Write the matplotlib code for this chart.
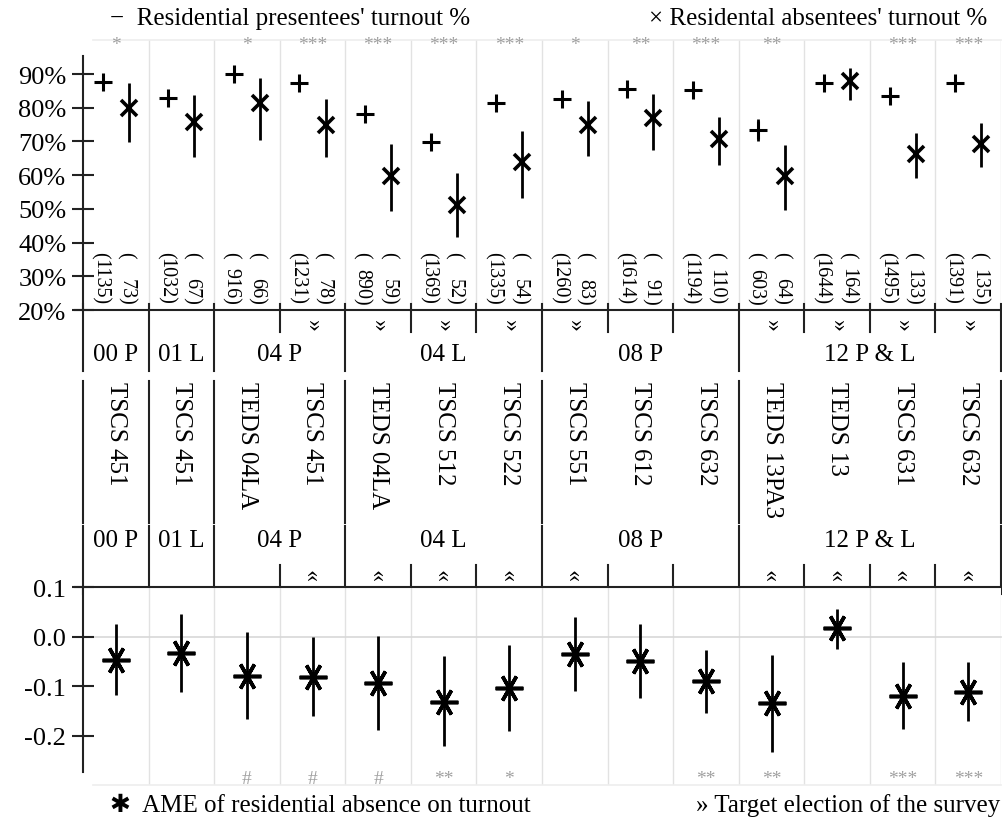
import numpy as np
import matplotlib
matplotlib.use("Agg")
import matplotlib.pyplot as plt

plt.rcParams['font.family'] = ['Liberation Serif', 'DejaVu Sans']
plt.rcParams['axes.unicode_minus'] = False

# --- data ---
elections = ["00 P", "01 L", "04 P", "04 L", "08 P", "12 P & L"]
group_sizes = [1, 1, 2, 3, 3, 4]
surveys = ["TSCS 451", "TSCS 451", "TEDS 04LA", "TSCS 451", "TEDS 04LA", "TSCS 512",
           "TSCS 522", "TSCS 551", "TSCS 612", "TSCS 632", "TEDS 13PA3", "TEDS 13",
           "TSCS 631", "TSCS 632"]
target = [0, 0, 0, 1, 1, 1, 1, 1, 0, 0, 1, 1, 1, 1]

n_pres = [1135, 1032, 916, 1231, 890, 1369, 1335, 1260, 1614, 1194, 603, 1644, 1495, 1391]
n_abs = [73, 67, 66, 78, 59, 52, 54, 83, 91, 110, 64, 164, 133, 135]

pres_turnout = [87.5, 82.8, 90.0, 87.3, 78.1, 69.7, 81.4, 82.6, 85.6, 85.4, 73.5, 87.3, 83.4, 87.3]
pres_lo = [85.8, 81.0, 88.3, 85.6, 76.3, 67.9, 79.6, 80.9, 84.0, 83.6, 70.2, 85.8, 81.8, 85.7]
pres_hi = [89.2, 84.6, 91.7, 89.0, 79.9, 71.5, 83.2, 84.3, 87.2, 87.2, 76.6, 88.8, 85.0, 88.9]

abs_turnout = [80.0, 75.9, 81.3, 74.9, 59.8, 51.2, 63.8, 74.9, 77.0, 70.7, 59.7, 87.8, 66.3, 69.2]
abs_lo = [69.7, 65.5, 70.4, 65.3, 49.4, 41.7, 53.2, 65.8, 67.6, 63.0, 49.7, 82.3, 59.2, 62.5]
abs_hi = [87.2, 83.9, 88.8, 82.6, 69.2, 60.6, 73.2, 82.1, 84.0, 77.2, 68.9, 91.7, 72.4, 75.4]
diff_sig = ["*", "", "*", "***", "***", "***", "***", "*", "**", "***", "**", "", "***", "***"]

ame = [-0.047, -0.033, -0.079, -0.082, -0.094, -0.132, -0.104, -0.035, -0.050, -0.090,
       -0.135, 0.017, -0.119, -0.111]
ame_lo = [-0.118, -0.111, -0.167, -0.161, -0.188, -0.221, -0.190, -0.109, -0.124, -0.155,
          -0.234, -0.025, -0.187, -0.171]
ame_hi = [0.026, 0.045, 0.009, -0.001, 0.001, -0.040, -0.017, 0.039, 0.026, -0.026,
          -0.036, 0.057, -0.052, -0.052]
ame_sig = ["", "", "#", "#", "#", "**", "*", "", "", "**", "**", "", "***", "***"]

# --- layout ---
W, H = 1002, 828
ncol = len(surveys)
x = np.arange(ncol) + 0.5
ext = 0.122          # how far the black rules stick out left of the axis (columns)
black = '#222222'
grid = '#e2e2e2'
star_col = '#a0a0a0'

fig = plt.figure(figsize=(W / 100, H / 100), dpi=100)


def box(top_px, bottom_px):
    return [83 / W, 1 - bottom_px / H, 918 / W, (bottom_px - top_px) / H]


ax_top = fig.add_axes(box(41.3, 311))
ax_mid = fig.add_axes(box(311, 589))
ax_bot = fig.add_axes(box(588.3, 786))

# group boundaries
bounds = np.cumsum([0] + group_sizes)
inner = [b for b in range(1, ncol) if b not in bounds]
centers = [(bounds[i] + bounds[i + 1]) / 2 for i in range(len(elections))]

# ---------- top panel: turnout ----------
ax_top.set_xlim(0, ncol)
ax_top.set_ylim(20, 100)
for s in ['top', 'right', 'bottom']:
    ax_top.spines[s].set_visible(False)
ax_top.spines['left'].set_bounds(20, 95.3)
ax_top.spines['left'].set_color(black)
ax_top.spines['left'].set_linewidth(1.5)
ax_top.set_xticks([])
ticks = list(range(20, 100, 10))
ax_top.set_yticks(ticks)
ax_top.set_yticklabels([f"{t}%" for t in ticks])
ax_top.tick_params(axis='y', direction='inout', length=16, width=1.5, color=black,
                   labelsize=19, pad=4)
for b in range(1, ncol + 1):
    ax_top.axvline(b, color=grid, lw=1, zorder=0)
ax_top.axhline(100, xmin=0.15 / ncol, color='#ededed', lw=1.2, clip_on=False)
ax_top.plot([-ext, ncol], [20, 20], color=black, lw=1.5, clip_on=False)

p = np.array(pres_turnout)
a = np.array(abs_turnout)
ax_top.errorbar(x - 0.2, p, yerr=[p - np.array(pres_lo), np.array(pres_hi) - p],
                fmt='+', color='black', ms=13, mew=2.2, elinewidth=2, capsize=0)
ax_top.errorbar(x + 0.2, a, yerr=[a - np.array(abs_lo), np.array(abs_hi) - a],
                fmt='x', color='black', ms=11, mew=2.6, elinewidth=2, capsize=0)

for xi, s in zip(x, diff_sig):
    ax_top.text(xi, 98.9, s, ha='center', va='center', color=star_col, fontsize=14,
                clip_on=False)
for xi, n1, n2 in zip(x, n_pres, n_abs):
    for dx, n in [(-0.25, n1), (0.15, n2)]:
        ax_top.text(xi + dx, 37.4, "(", rotation=270, ha='center', va='top', fontsize=14.5)
        ax_top.text(xi + dx, 21.7, f"{n})", rotation=270, ha='center', va='bottom',
                    fontsize=14.5)

# ---------- middle: labels ----------
ax_mid.set_xlim(0, ncol)
ax_mid.set_ylim(278, 0)
ax_mid.axis('off')
for b in bounds:
    for y0, y1 in [(-6, 61), (71, 213), (216, 284)]:
        ax_mid.plot([b, b], [y0, y1], color=black, lw=1.5, clip_on=False)
for b in inner:
    for y0, y1 in [(-6, 22), (255, 284)]:
        ax_mid.plot([b, b], [y0, y1], color=black, lw=1.5, clip_on=False)
for c, e in zip(centers, elections):
    ax_mid.text(c, 44, e, ha='center', va='center', fontsize=18)
    ax_mid.text(c, 230, e, ha='center', va='center', fontsize=18)
for xi, s, t in zip(x, surveys, target):
    ax_mid.text(xi, 71, s, rotation=270, ha='center', va='top', fontsize=18)
    if t:
        ax_mid.text(xi, 14, "»", rotation=270, ha='center', va='center', fontsize=17)
        ax_mid.text(xi, 264, "»", rotation=90, ha='center', va='center', fontsize=17)

# ---------- bottom panel: AME ----------
ax_bot.set_xlim(0, ncol)
ax_bot.set_ylim(-0.3, 0.1)
for s in ['top', 'right', 'bottom']:
    ax_bot.spines[s].set_visible(False)
ax_bot.spines['left'].set_bounds(-0.274, 0.1)
ax_bot.spines['left'].set_color(black)
ax_bot.spines['left'].set_linewidth(1.5)
ax_bot.set_xticks([])
bticks = [0.1, 0.0, -0.1, -0.2]
ax_bot.set_yticks(bticks)
ax_bot.set_yticklabels(["0.1", "0.0", "-0.1", "-0.2"])
ax_bot.tick_params(axis='y', direction='inout', length=16, width=1.5, color=black,
                   labelsize=19, pad=4)
ax_bot.yaxis.get_major_ticks()[1].tick1line.set_color('#bbbbbb')
for b in range(1, ncol + 1):
    ax_bot.axvline(b, color=grid, lw=1, zorder=0)
ax_bot.plot([-ext, ncol], [0, 0], color='#d8d8d8', lw=1.2, zorder=0, clip_on=False)
ax_bot.axhline(-0.3, xmin=0.15 / ncol, color='#ededed', lw=1.2, clip_on=False)
ax_bot.plot([-ext, ncol], [0.1, 0.1], color=black, lw=1.5, clip_on=False)

m = np.array(ame)
ax_bot.errorbar(x, m, yerr=[m - np.array(ame_lo), np.array(ame_hi) - m],
                fmt='none', ecolor='black', elinewidth=2, capsize=0)
ax_bot.plot(x, m, ls='none', marker=(6, 2, 90), ms=20, mew=2.6, color='black')
for xi, s in zip(x, ame_sig):
    ax_bot.text(xi, -0.287, s, ha='center', va='center', color=star_col, fontsize=14)

# ---------- legends ----------
fig.text(110 / W, 1 - 19 / H, "−  Residential presentees' turnout %", ha='left',
         va='center', fontsize=18)
fig.text(987 / W, 1 - 19 / H, "× Residental absentees' turnout %", ha='right',
         va='center', fontsize=18)
fig.text(110 / W, 1 - 806 / H, "✱  AME of residential absence on turnout", ha='left',
         va='center', fontsize=18)
fig.text(1000 / W, 1 - 806 / H, "» Target election of the survey", ha='right',
         va='center', fontsize=18)

fig.savefig("out.png", dpi=100)
